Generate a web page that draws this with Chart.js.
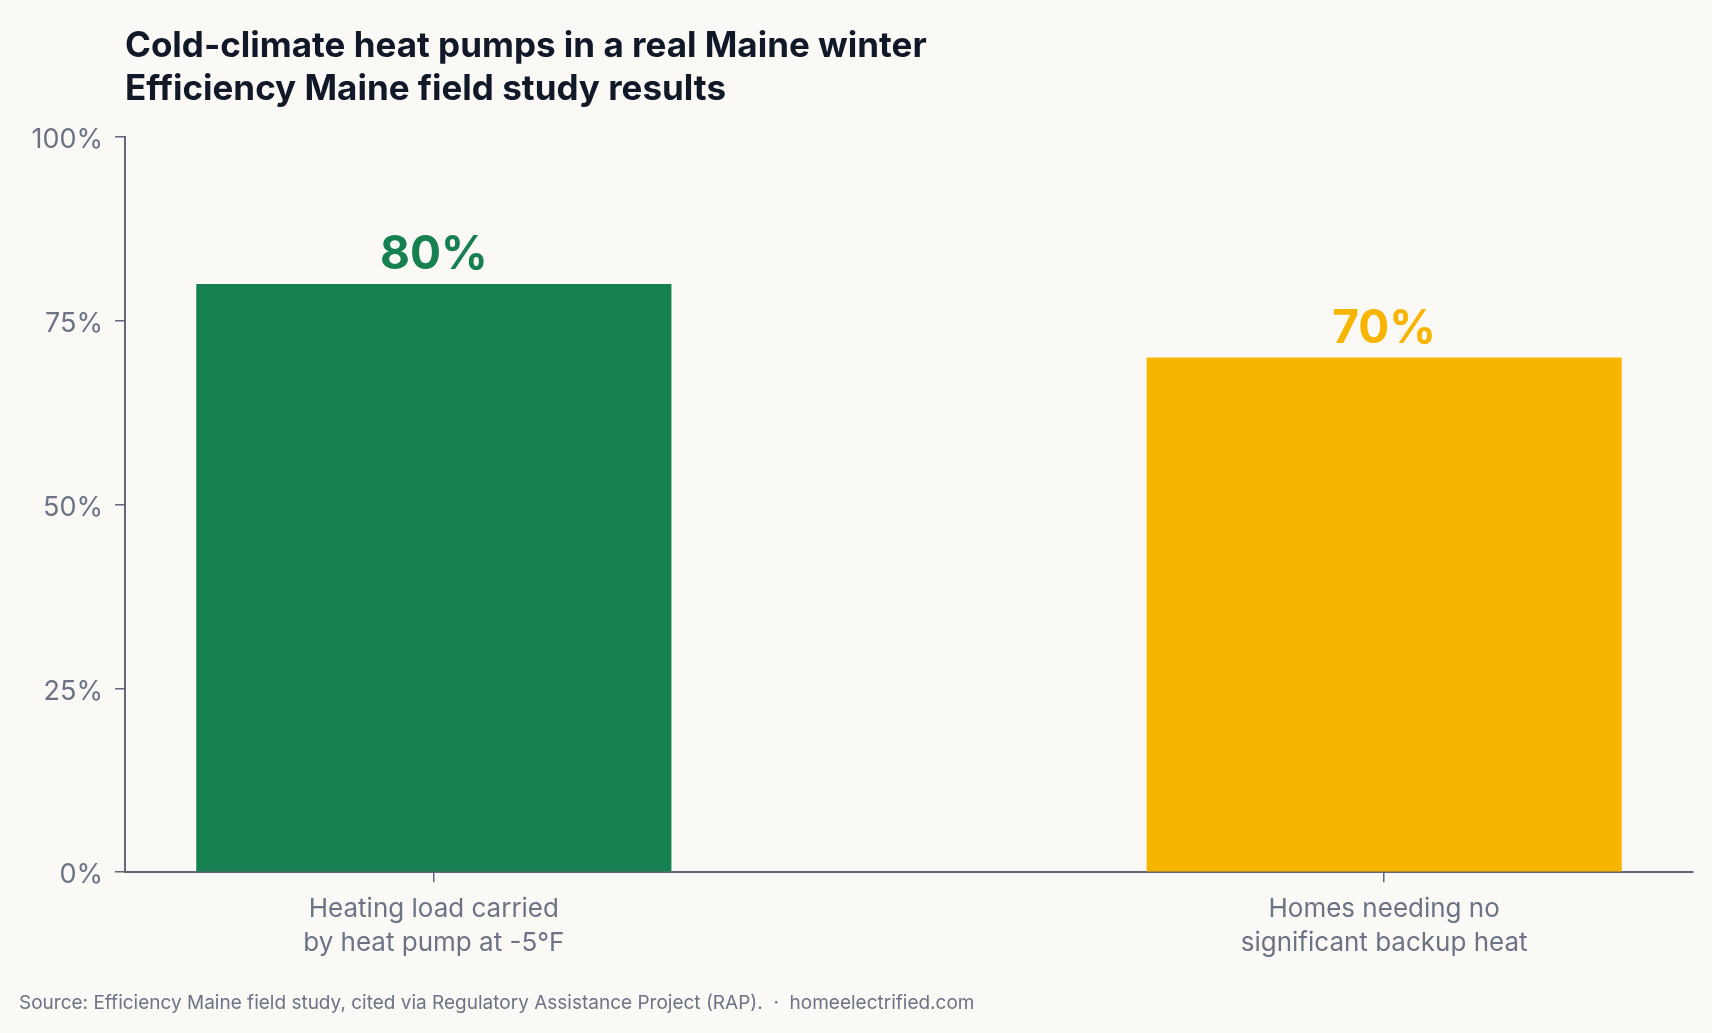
<!DOCTYPE html>
<html>
<head>
<meta charset="utf-8">
<script src="https://cdn.jsdelivr.net/npm/chart.js@4.4.1/dist/chart.umd.min.js"></script>
<style>
  html, body { margin: 0; padding: 0; background: #faf9f6; }
  #wrap { width: 1712px; height: 1033px; position: relative; }
</style>
</head>
<body>
<div id="wrap"><canvas id="heatPumpChart"></canvas></div>
<script>
const categories = [
  ["Heating load carried", "by heat pump at -5°F"],
  ["Homes needing no", "significant backup heat"]
];
const positions = [0, 1];
const shares = [80, 70];
const barColors = ["#178050", "#f7b500"];
const yTicks = [0, 25, 50, 75, 100];
const titleLines = ["Cold-climate heat pumps in a real Maine winter", "Efficiency Maine field study results"];
const sourceNote = "Source: Efficiency Maine field study, cited via Regulatory Assistance Project (RAP).  ·  homeelectrified.com";

const FONT = "Inter, 'Liberation Sans', Arial, sans-serif";
const axisColor = "#5f6779";
const tickTextColor = "#6b7385";

// draws "80%" etc. above each bar
const valueLabels = {
  id: "valueLabels",
  afterDatasetsDraw(chart) {
    const ctx = chart.ctx;
    const meta = chart.getDatasetMeta(0);
    ctx.save();
    ctx.font = "bold 46px " + FONT;
    ctx.textAlign = "center";
    ctx.textBaseline = "alphabetic";
    meta.data.forEach((bar, i) => {
      ctx.fillStyle = barColors[i];
      ctx.fillText(shares[i] + "%", bar.x, bar.y - 15);
    });
    ctx.restore();
  }
};

const ctx = document.getElementById("heatPumpChart").getContext("2d");
const chart = new Chart(ctx, {
  type: "bar",
  data: {
    datasets: [{
      data: positions.map((x, i) => ({ x: x, y: shares[i] })),
      backgroundColor: barColors,
      borderWidth: 0,
      categoryPercentage: 1,
      barPercentage: 0.5
    }]
  },
  options: {
    responsive: true,
    maintainAspectRatio: false,
    animation: false,
    layout: { padding: { left: 19, right: 19, top: 0, bottom: 8 } },
    plugins: {
      legend: { display: false },
      tooltip: { enabled: false },
      title: {
        display: true,
        text: titleLines,
        align: "start",
        fullSize: false,
        color: "#111827",
        font: { family: FONT, size: 35, weight: "bold", lineHeight: 43 / 35 },
        padding: { top: 25, bottom: 26 }
      },
      subtitle: {
        display: true,
        position: "bottom",
        text: sourceNote,
        align: "start",
        color: "#6b7385",
        font: { family: FONT, size: 19 },
        padding: { top: 20, bottom: 10 }
      }
    },
    scales: {
      x: {
        type: "linear",
        offset: false,
        min: -0.325,
        max: 1.325,
        afterBuildTicks(scale) {
          scale.ticks = positions.map(v => ({ value: v }));
        },
        afterFit(scale) { scale.height = 100; },
        ticks: {
          color: tickTextColor,
          font: { family: FONT, size: 26, lineHeight: 34 / 26 },
          padding: 10,
          callback: (value) => categories[positions.indexOf(value)]
        },
        grid: { offset: false, drawOnChartArea: false, drawTicks: true, tickLength: 10, color: axisColor, lineWidth: 1.5 },
        border: { display: true, color: axisColor, width: 2 }
      },
      y: {
        min: 0,
        max: 100,
        afterBuildTicks(scale) {
          scale.ticks = yTicks.map(v => ({ value: v }));
        },
        afterFit(scale) { scale.width = 106; },
        ticks: {
          color: tickTextColor,
          font: { family: FONT, size: 27 },
          padding: 12,
          labelOffset: 3,
          callback: (value) => value + "%"
        },
        grid: { drawOnChartArea: false, drawTicks: true, tickLength: 10, color: axisColor, lineWidth: 1.5 },
        border: { display: true, color: axisColor, width: 2 }
      }
    }
  },
  plugins: [valueLabels]
});
</script>
</body>
</html>
